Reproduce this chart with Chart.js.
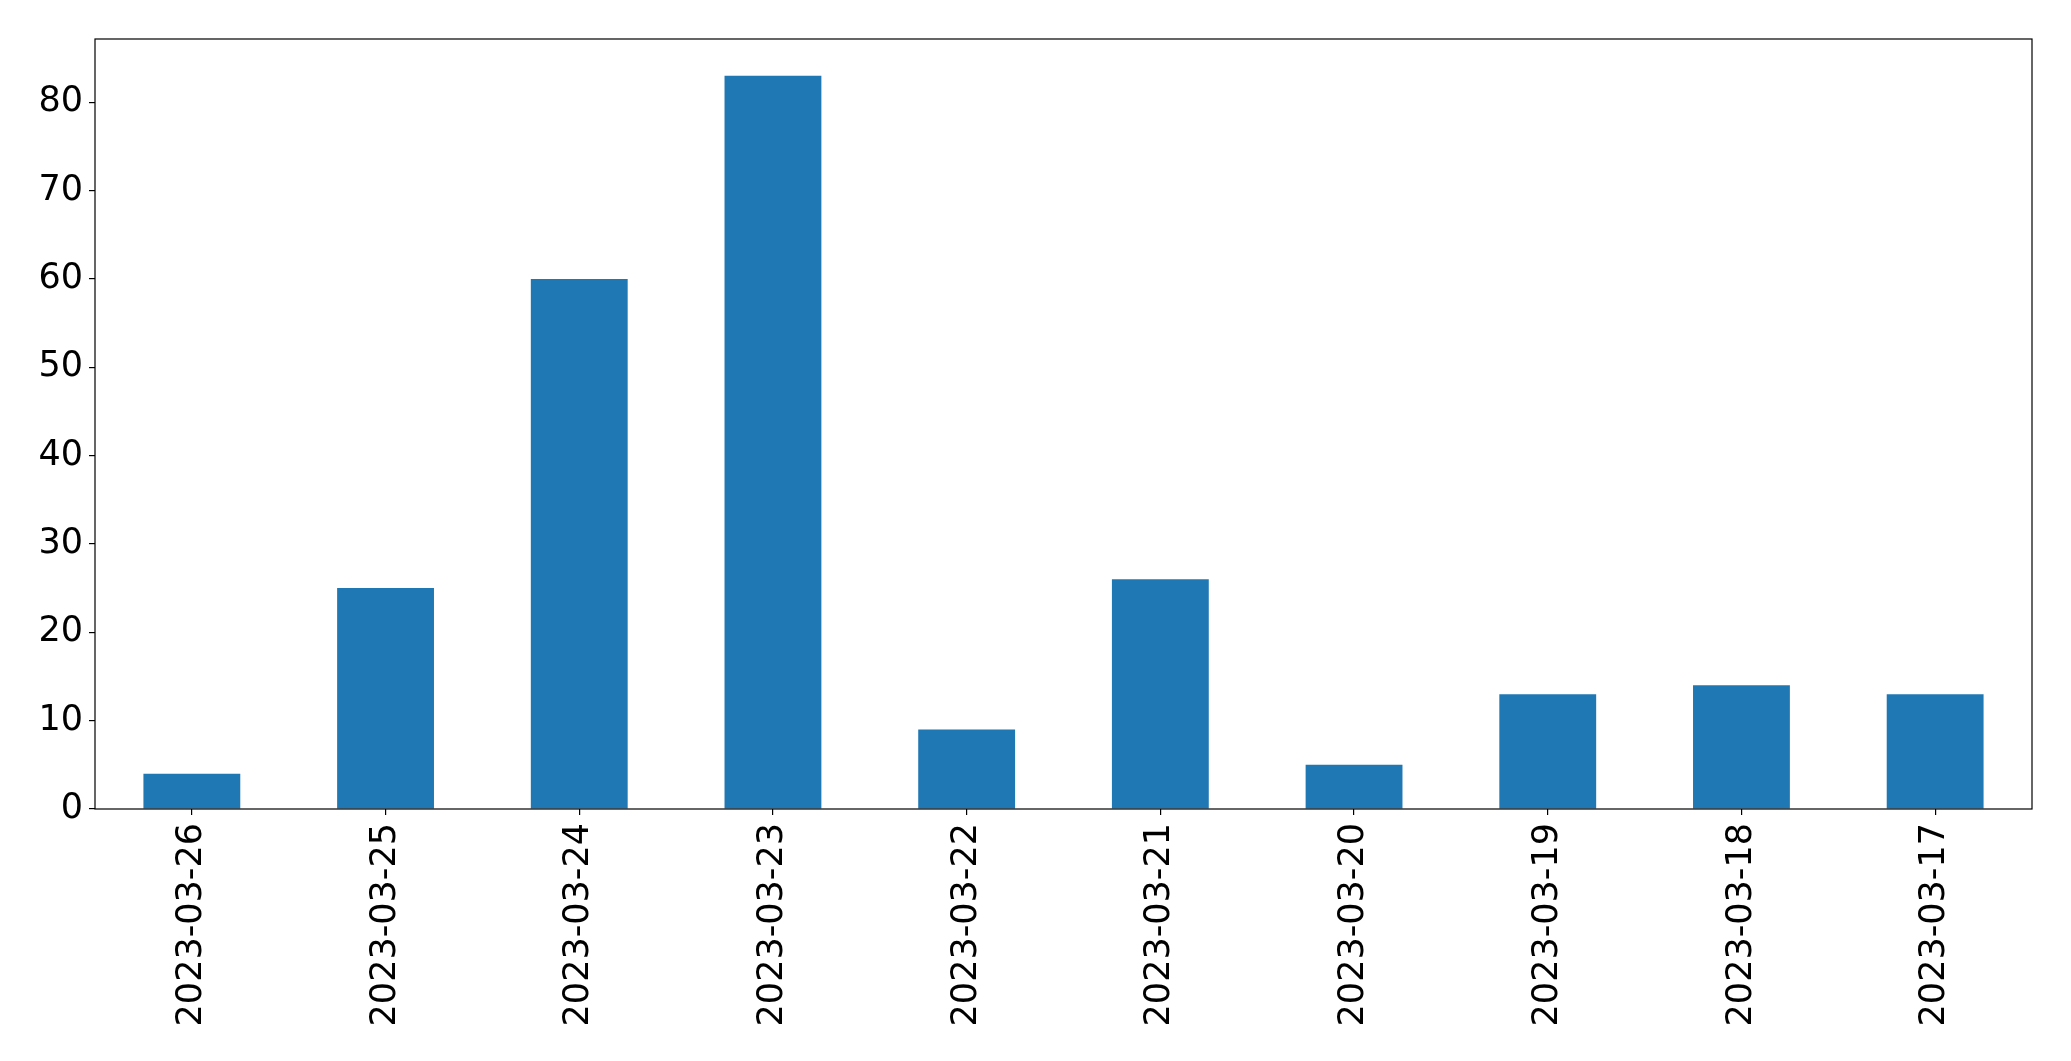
<!DOCTYPE html>
<html>
<head>
<meta charset="utf-8">
<script src="https://cdn.jsdelivr.net/npm/chart.js@4.4.0/dist/chart.umd.min.js"></script>
<style>
  html, body { margin: 0; padding: 0; background: #fff; }
  #wrap { width: 2071px; height: 1061px; position: relative; }
</style>
</head>
<body>
<div id="wrap"><canvas id="chart"></canvas></div>
<script>
// Data
const dates = ['2023-03-26', '2023-03-25', '2023-03-24', '2023-03-23', '2023-03-22',
               '2023-03-21', '2023-03-20', '2023-03-19', '2023-03-18', '2023-03-17'];
const counts = [4, 25, 60, 83, 9, 26, 5, 13, 14, 13];
const yTicks = [0, 10, 20, 30, 40, 50, 60, 70, 80];

// Draws the full box round the plot area
const frame = {
    id: 'frame',
    afterDraw(chart) {
        const {ctx, chartArea: a} = chart;
        ctx.save();
        ctx.strokeStyle = '#000';
        ctx.lineWidth = 1.2;
        ctx.strokeRect(a.left, a.top, a.right - a.left, a.bottom - a.top);
        ctx.restore();
    }
};

const font = {family: "'DejaVu Sans', sans-serif", size: 35};

new Chart(document.getElementById('chart'), {
    type: 'bar',
    data: {
        labels: dates,
        datasets: [{
            data: counts,
            backgroundColor: '#1f77b4',
            barPercentage: 0.5,
            categoryPercentage: 1.0
        }]
    },
    options: {
        responsive: true,
        maintainAspectRatio: false,
        animation: false,
        layout: {padding: {left: 0, right: 39, top: 39, bottom: 0}},
        plugins: {legend: {display: false}, tooltip: {enabled: false}},
        scales: {
            x: {
                offset: true,
                grid: {display: true, drawOnChartArea: false, offset: false, color: '#000', tickLength: 6, lineWidth: 1.2},
                border: {display: false},
                ticks: {color: '#000', font, minRotation: 90, maxRotation: 90, padding: 8, autoSkip: false},
                afterFit(scale) { scale.height = 252; }
            },
            y: {
                min: 0,
                max: 87.15,
                grid: {display: true, drawOnChartArea: false, color: '#000', tickLength: 6, lineWidth: 1.2},
                border: {display: false},
                ticks: {color: '#000', font, padding: 6},
                afterBuildTicks(scale) {
                    scale.ticks = yTicks.map(v => ({value: v}));
                },
                afterFit(scale) { scale.width = 95; }
            }
        }
    },
    plugins: [frame]
});
</script>
</body>
</html>
